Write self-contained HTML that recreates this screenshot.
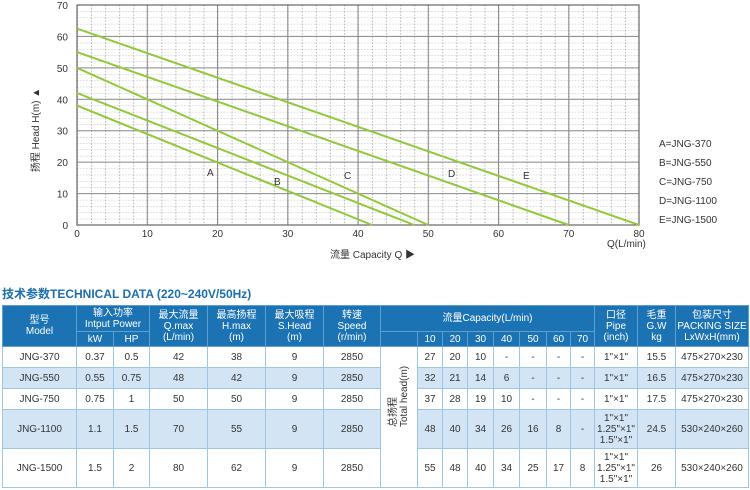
<!DOCTYPE html>
<html><head><meta charset="utf-8"><style>
body{margin:0;width:750px;height:490px;background:#fff;position:relative;overflow:hidden;font-family:"Liberation Sans","Noto Sans CJK SC",sans-serif;}
.t{position:absolute;font-size:10px;color:#333;}
table{position:absolute;left:2px;top:305px;border-collapse:collapse;table-layout:fixed;font-size:10px;color:#333;font-family:"Liberation Sans","Noto Sans CJK SC",sans-serif;}
td{text-align:center;border:1px solid #9cc6e6;padding:0;line-height:11px;}
th{background:#1c73b4;color:#fff;font-weight:normal;border:1px solid #5f9fd0;padding:0;line-height:11px;font-size:10px;}
tr.b td{background:#d3e5f5;}
</style></head><body>
<svg width="750" height="270" style="position:absolute;left:0;top:0" font-family="Liberation Sans, Noto Sans CJK SC, sans-serif">
<defs>
<pattern id="mg" x="77" y="225" width="14.05" height="6.286" patternUnits="userSpaceOnUse">
<line x1="0" y1="0" x2="14.05" y2="0" stroke="#b4b4b4" stroke-width="1" stroke-dasharray="1.5,1.5"/>
<line x1="0.5" y1="0" x2="0.5" y2="6.286" stroke="#b4b4b4" stroke-width="1" stroke-dasharray="1.5,1.5"/>
</pattern>
</defs>
<rect x="77" y="5" width="562" height="220" fill="url(#mg)"/>
<g stroke="#8a8a8a" stroke-width="1">
<line x1="147.25" y1="5" x2="147.25" y2="225"/><line x1="217.5" y1="5" x2="217.5" y2="225"/><line x1="287.75" y1="5" x2="287.75" y2="225"/><line x1="358" y1="5" x2="358" y2="225"/><line x1="428.25" y1="5" x2="428.25" y2="225"/><line x1="498.5" y1="5" x2="498.5" y2="225"/><line x1="568.75" y1="5" x2="568.75" y2="225"/>
<line x1="77" y1="193.6" x2="639" y2="193.6"/><line x1="77" y1="162.1" x2="639" y2="162.1"/><line x1="77" y1="130.7" x2="639" y2="130.7"/><line x1="77" y1="99.3" x2="639" y2="99.3"/><line x1="77" y1="67.9" x2="639" y2="67.9"/><line x1="77" y1="36.4" x2="639" y2="36.4"/>
</g>
<rect x="77" y="5" width="562" height="220" fill="none" stroke="#666" stroke-width="1.2"/>
<g stroke="#92c83a" stroke-width="2" fill="none">
<line x1="77" y1="105.6" x2="372" y2="225"/>
<line x1="77" y1="93" x2="414.2" y2="225"/>
<line x1="77" y1="67.9" x2="428.25" y2="225"/>
<line x1="77" y1="52.1" x2="568.75" y2="225"/>
<line x1="77" y1="28.6" x2="639" y2="225"/>
</g>
<g font-size="10" fill="#333">
<text x="207" y="176">A</text><text x="274" y="185">B</text><text x="344" y="179">C</text><text x="448" y="177">D</text><text x="523" y="179">E</text>
</g>
<g font-size="10" fill="#333" text-anchor="middle">
<text x="77" y="237">0</text><text x="147.25" y="237">10</text><text x="217.5" y="237">20</text><text x="287.75" y="237">30</text><text x="358" y="237">40</text><text x="428.25" y="237">50</text><text x="498.5" y="237">60</text><text x="568.75" y="237">70</text><text x="639" y="237">80</text>
</g>
<g font-size="10" fill="#333" text-anchor="end">
<text x="68" y="229">0</text><text x="68" y="197.6">10</text><text x="68" y="166">20</text><text x="68" y="134.7">30</text><text x="68" y="103.3">40</text><text x="68" y="71.9">50</text><text x="68" y="40.4">60</text><text x="68" y="9">70</text>
</g>
<text transform="translate(39,130) rotate(-90)" font-size="10" fill="#333" text-anchor="middle">扬程 Head H(m)  ▲</text>
<text x="330" y="258" font-size="10" fill="#333">流量 Capacity Q  ▶</text>
<text x="607" y="247" font-size="10" fill="#333">Q(L/min)</text>
<g font-size="10" fill="#333">
<text x="659" y="147">A=JNG-370</text><text x="659" y="166">B=JNG-550</text><text x="659" y="185">C=JNG-750</text><text x="659" y="204">D=JNG-1100</text><text x="659" y="223">E=JNG-1500</text>
</g>
</svg>
<div class="t" style="left:2px;top:285px;font-size:12px;font-weight:bold;color:#1c6fae;">技术参数TECHNICAL DATA (220~240V/50Hz)</div>
<table>
<colgroup><col style="width:74px"><col style="width:37px"><col style="width:36px"><col style="width:58px"><col style="width:58px"><col style="width:58px"><col style="width:57px"><col style="width:37px"><col style="width:25px"><col style="width:25px"><col style="width:26px"><col style="width:26px"><col style="width:27px"><col style="width:24px"><col style="width:24px"><col style="width:43px"><col style="width:38px"><col style="width:73px"></colgroup>
<tr style="height:26px"><th rowspan="2">型号<br>Model</th><th colspan="2">输入功率<br>Intput Power</th><th rowspan="2">最大流量<br>Q.max<br>(L/min)</th><th rowspan="2">最高扬程<br>H.max<br>(m)</th><th rowspan="2">最大吸程<br>S.Head<br>(m)</th><th rowspan="2">转速<br>Speed<br>(r/min)</th><th colspan="8">流量Capacity(L/min)</th><th rowspan="2">口径<br>Pipe<br>(inch)</th><th rowspan="2">毛重<br>G.W<br>kg</th><th rowspan="2">包装尺寸<br>PACKING SIZE<br>LxWxH(mm)</th></tr>
<tr style="height:15px"><th>kW</th><th>HP</th><th></th><th>10</th><th>20</th><th>30</th><th>40</th><th>50</th><th>60</th><th>70</th></tr>
<tr style="height:21px"><td>JNG-370</td><td>0.37</td><td>0.5</td><td>42</td><td>38</td><td>9</td><td>2850</td><td rowspan="5" style="background:#fff"><div style="transform:rotate(-90deg);white-space:nowrap;width:20px;margin:auto">总扬程<br>Total head(m)</div></td><td>27</td><td>20</td><td>10</td><td>-</td><td>-</td><td>-</td><td>-</td><td>1"×1"</td><td>15.5</td><td>475×270×230</td></tr>
<tr class="b" style="height:21px"><td>JNG-550</td><td>0.55</td><td>0.75</td><td>48</td><td>42</td><td>9</td><td>2850</td><td>32</td><td>21</td><td>14</td><td>6</td><td>-</td><td>-</td><td>-</td><td>1"×1"</td><td>16.5</td><td>475×270×230</td></tr>
<tr style="height:21px"><td>JNG-750</td><td>0.75</td><td>1</td><td>50</td><td>50</td><td>9</td><td>2850</td><td>37</td><td>28</td><td>19</td><td>10</td><td>-</td><td>-</td><td>-</td><td>1"×1"</td><td>17.5</td><td>475×270×230</td></tr>
<tr class="b" style="height:39px"><td>JNG-1100</td><td>1.1</td><td>1.5</td><td>70</td><td>55</td><td>9</td><td>2850</td><td>48</td><td>40</td><td>34</td><td>26</td><td>16</td><td>8</td><td>-</td><td>1"×1"<br>1.25"×1"<br>1.5"×1"</td><td>24.5</td><td>530×240×260</td></tr>
<tr style="height:39px"><td>JNG-1500</td><td>1.5</td><td>2</td><td>80</td><td>62</td><td>9</td><td>2850</td><td>55</td><td>48</td><td>40</td><td>34</td><td>25</td><td>17</td><td>8</td><td>1"×1"<br>1.25"×1"<br>1.5"×1"</td><td>26</td><td>530×240×260</td></tr>
</table>
</body></html>
